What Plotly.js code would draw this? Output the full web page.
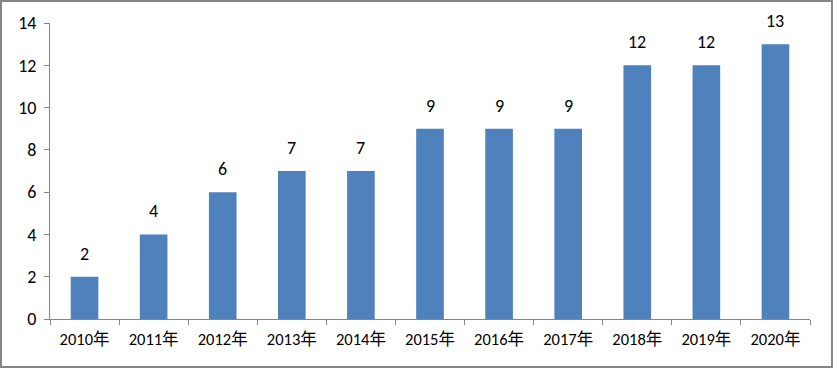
<!DOCTYPE html>
<html><head><meta charset="utf-8">
<script src="https://cdn.plot.ly/plotly-3.0.1.min.js"></script>
<style>
html,body{margin:0;padding:0;background:#fff;}
#wrap{position:relative;width:833px;height:368px;}
#chart{width:833px;height:368px;}
#frame{position:absolute;left:0;top:0;width:833px;height:368px;box-sizing:border-box;border:2px solid #868686;pointer-events:none;}
</style></head>
<body>
<div id="wrap"><div id="chart"></div><div id="frame"></div></div>
<script>
const years = ["2010年","2011年","2012年","2013年","2014年","2015年","2016年","2017年","2018年","2019年","2020年"];
const counts = [2,4,6,7,7,9,9,9,12,12,13];
const yTicks = [0,2,4,6,8,10,12,14];

const font = "Calibri, Carlito, 'Liberation Sans', 'Noto Sans CJK SC', sans-serif";
const labels = years.map((c, i) => ({
  x: c, y: counts[i], xref: 'x', yref: 'y',
  text: String(counts[i]), showarrow: false,
  yanchor: 'bottom', yshift: 10,
  font: {family: font, size: 18, color: '#000'}
}));
Plotly.newPlot('chart', [{
  type: 'bar',
  x: years,
  y: counts,
  marker: {color: '#4F81BD'},
  hoverinfo: 'none'
}], {
  width: 833, height: 368,
  margin: {l: 50, r: 23, t: 23, b: 49},
  paper_bgcolor: '#fff', plot_bgcolor: '#fff',
  bargap: 0.6,
  showlegend: false,
  font: {family: font, color: '#000'},
  annotations: labels,
  xaxis: {
    type: 'category',
    showline: true, linecolor: '#868686', linewidth: 1,
    ticks: 'outside', tickson: 'boundaries', ticklen: 5, tickcolor: '#868686',
    showgrid: false, zeroline: false,
    tickfont: {size: 16.5, family: font},
    ticklabelstandoff: 5,
    fixedrange: true
  },
  yaxis: {
    range: [0, 14],
    tickvals: yTicks,
    showline: true, linecolor: '#868686', linewidth: 1,
    ticks: 'outside', ticklen: 5, tickcolor: '#868686',
    showgrid: false, zeroline: false,
    tickfont: {size: 18, family: font},
    ticklabelstandoff: 4,
    fixedrange: true
  }
}, {staticPlot: true});
</script>
</body></html>
